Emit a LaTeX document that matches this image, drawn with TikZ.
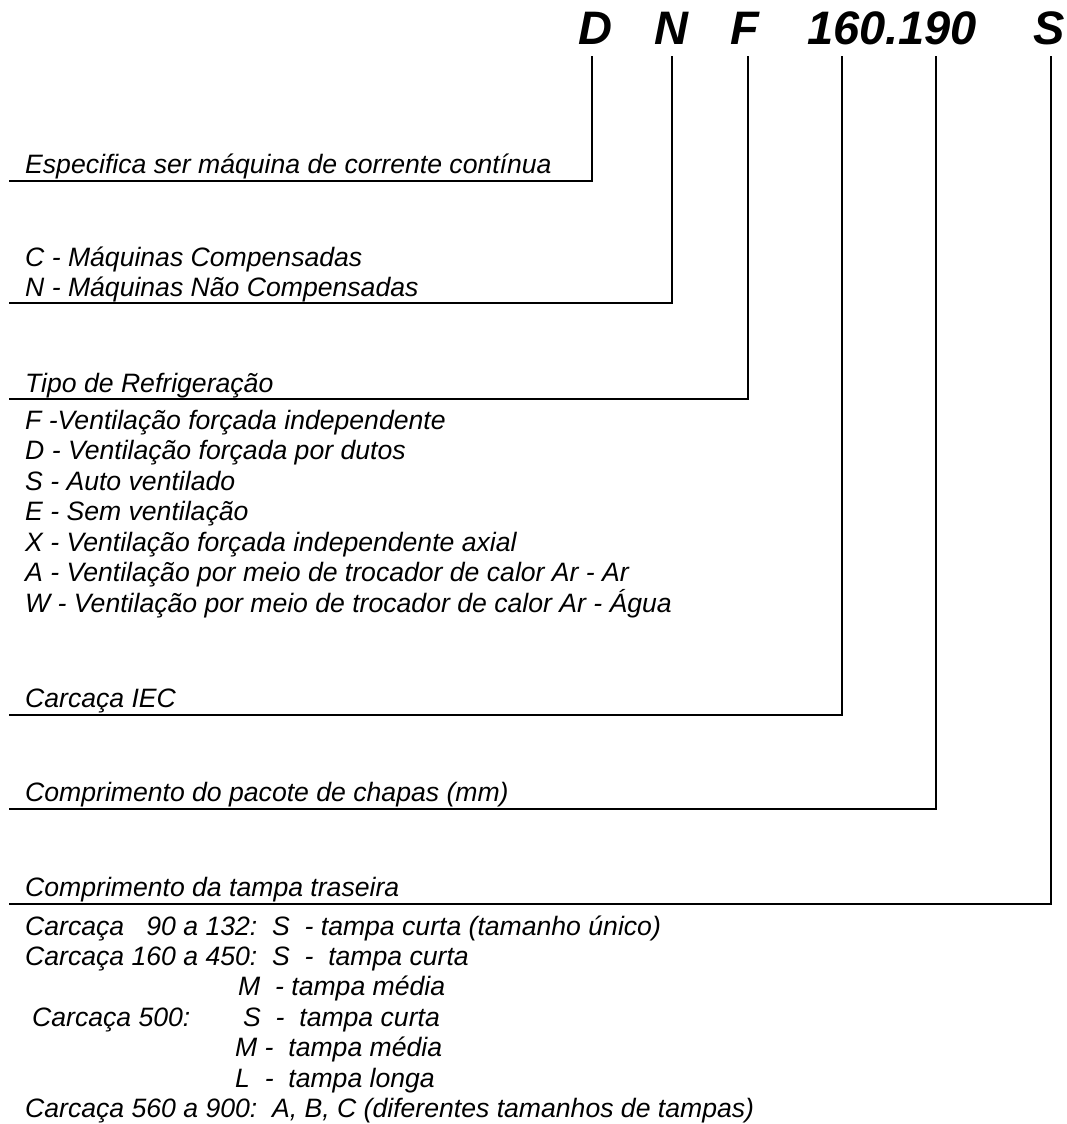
\documentclass[tikz,border=0pt]{standalone}
\usepackage{fontspec}
\setmainfont{Liberation Sans}
\newcommand\bodyfnt{\fontsize{26.6}{30}\selectfont\itshape}
\newcommand\headfnt{\fontsize{47}{50}\selectfont\bfseries\itshape}
\tikzset{
  txt/.style={anchor=base west, inner sep=0pt, font=\bodyfnt},
  head/.style={anchor=base west, inner sep=0pt, font=\headfnt},
  conn/.style={line width=2pt, line cap=rect}
}
\begin{document}
\begin{tikzpicture}[x=1pt, y=-1pt]
\useasboundingbox (0,0) rectangle (1067,1124);
% heading
\node[head] (hD) at (578,45) {D};
\node[head] (hN) at (654,45) {N};
\node[head] (hF) at (730,45) {F};
\node[head] (hNum) at (807,45) {160.190};
\node[head] (hS) at (1033,45) {S};
% connector top and end points
\coordinate (tD) at (592,57);   \coordinate (eD) at (10,181);
\coordinate (tN) at (672,57);   \coordinate (eN) at (10,303);
\coordinate (tF) at (748,57);   \coordinate (eF) at (10,399);
\coordinate (tC) at (842,57);   \coordinate (eC) at (10,715);
\coordinate (tP) at (936,57);   \coordinate (eP) at (10,809);
\coordinate (tS) at (1051,57);  \coordinate (eS) at (10,904);
\draw[conn] (tD) |- (eD);
\draw[conn] (tN) |- (eN);
\draw[conn] (tF) |- (eF);
\draw[conn] (tC) |- (eC);
\draw[conn] (tP) |- (eP);
\draw[conn] (tS) |- (eS);
% D
\node[txt] (a1) at (25,173) {Especifica ser máquina de corrente contínua};
% N
\node[txt] (b1) at (25,266) {C - Máquinas Compensadas};
\node[txt] (b2) at (25,296) {N - Máquinas Não Compensadas};
% F
\node[txt] (c0) at (25,392) {Tipo de Refrigeração};
\node[txt] (c1) at (25,429) {F -Ventilação forçada independente};
\node[txt] (c2) at (25,459.5) {D - Ventilação forçada por dutos};
\node[txt] (c3) at (25,490) {S - Auto ventilado};
\node[txt] (c4) at (25,520.5) {E - Sem ventilação};
\node[txt] (c5) at (25,551) {X - Ventilação forçada independente axial};
\node[txt] (c6) at (25,581.5) {A - Ventilação por meio de trocador de calor Ar - Ar};
\node[txt] (c7) at (25,612) {W - Ventilação por meio de trocador de calor Ar - Água};
% 160
\node[txt] (d1) at (25,707) {Carcaça IEC};
% 190
\node[txt] (e1) at (25,801) {Comprimento do pacote de chapas (mm)};
% S
\node[txt] (f0) at (25,896) {Comprimento da tampa traseira};
\node[txt] (f1) at (25,935) {Carcaça\ \ \ 90 a 132:\ \ S\ \ - tampa curta (tamanho único)};
\node[txt] (f2) at (25,965.4) {Carcaça 160 a 450:\ \ S\ \ -\ \ tampa curta};
\node[txt] (f3) at (238,995.8) {M\ \ - tampa média};
\node[txt] (f4a) at (32,1026.2) {Carcaça 500:};
\node[txt] (f4b) at (243,1026.2) {S\ \ -\ \ tampa curta};
\node[txt] (f5) at (235,1056.6) {M -\ \ tampa média};
\node[txt] (f6) at (235,1087) {L\ \ -\ \ tampa longa};
\node[txt] (f7) at (25,1117.4) {Carcaça 560 a 900:\ \ A, B, C (diferentes tamanhos de tampas)};
\end{tikzpicture}
\end{document}
